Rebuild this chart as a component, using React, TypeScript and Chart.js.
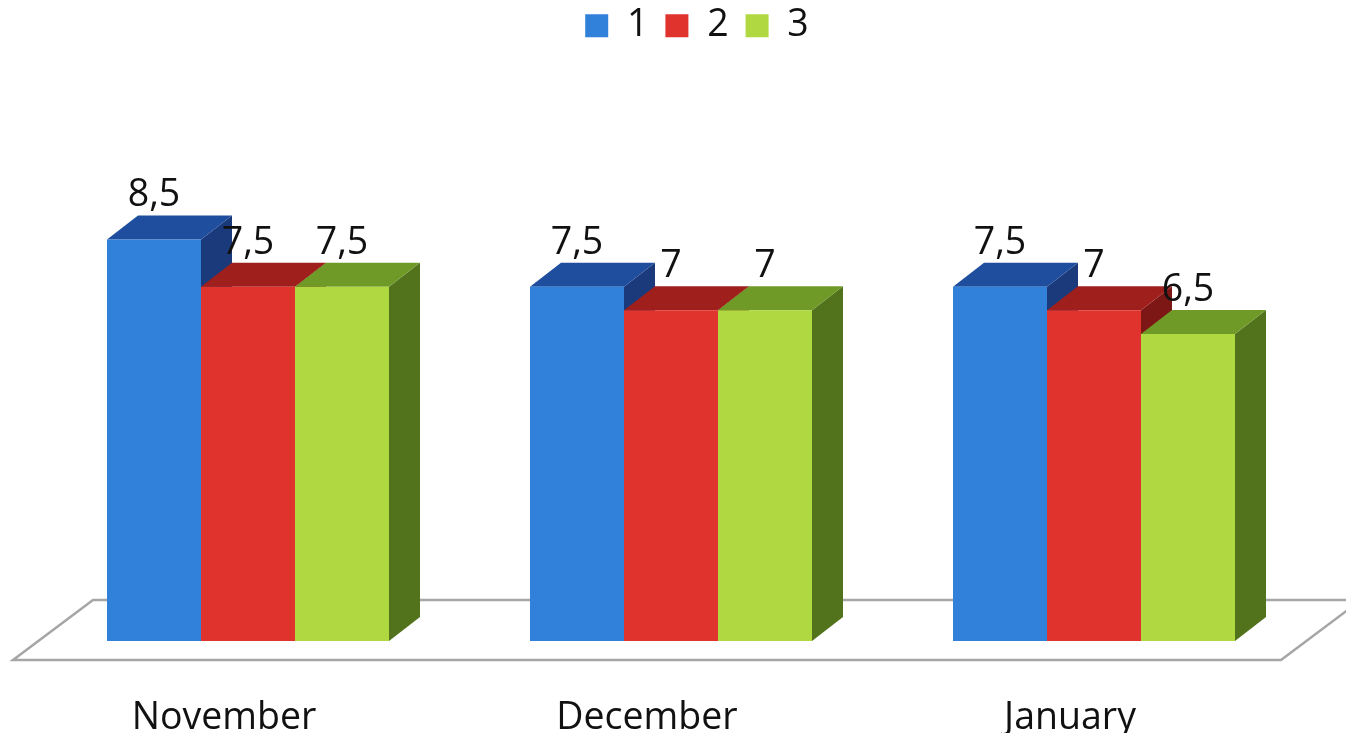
import React, { useEffect, useRef } from "react";
import { Chart, registerables } from "chart.js";

Chart.register(...registerables);

const months = ["November", "December", "January"];
const seriesNames = ["1", "2", "3"];
const series1 = [8.5, 7.5, 7.5];
const series2 = [7.5, 7, 7];
const series3 = [7.5, 7, 6.5];

const frontColors = ["#3180DA", "#E0332E", "#AFD841"];
const topColors = ["#1F4E9E", "#9E1F1C", "#6F9A28"];
const sideColors = ["#1A3A7C", "#7C1715", "#52731C"];

const FONT = '"Open Sans", sans-serif';
const FONT_SIZE = 37.5;
const DEPTH_X = 31;
const DEPTH_Y = 24;

// Floor slab, side and top faces go under the bars the library draws.
const extrusion = {
  id: "extrusion",
  afterLayout(chart: any) {
    const legend = chart.legend;
    legend.left += 26;
    legend.right += 26;
    legend.top -= 19.6;
    legend.bottom -= 19.6;
  },
  beforeDatasetsDraw(chart: any) {
    const { ctx, chartArea: area } = chart;
    const zero = chart.scales.y.getPixelForValue(0);
    ctx.save();
    ctx.beginPath();
    ctx.moveTo(area.left - 23.5, zero + 19);
    ctx.lineTo(area.right - 24.5, zero + 19);
    ctx.lineTo(area.right + 55.5, zero - 41);
    ctx.lineTo(area.left + 56.5, zero - 41);
    ctx.closePath();
    ctx.strokeStyle = "#A6A6A6";
    ctx.lineWidth = 2.5;
    ctx.stroke();

    chart.data.datasets.forEach((_: any, d: number) => {
      chart.getDatasetMeta(d).data.forEach((bar: any) => {
        const half = bar.width / 2;
        const l = bar.x - half;
        const r = bar.x + half;
        ctx.fillStyle = sideColors[d];
        ctx.beginPath();
        ctx.moveTo(r, bar.y);
        ctx.lineTo(r + DEPTH_X, bar.y - DEPTH_Y);
        ctx.lineTo(r + DEPTH_X, zero - DEPTH_Y);
        ctx.lineTo(r, zero);
        ctx.closePath();
        ctx.fill();
        ctx.fillStyle = topColors[d];
        ctx.beginPath();
        ctx.moveTo(l, bar.y);
        ctx.lineTo(l + DEPTH_X, bar.y - DEPTH_Y);
        ctx.lineTo(r + DEPTH_X, bar.y - DEPTH_Y);
        ctx.lineTo(r, bar.y);
        ctx.closePath();
        ctx.fill();
      });
    });
    ctx.restore();
  },
  afterDatasetsDraw(chart: any) {
    const { ctx } = chart;
    ctx.save();
    ctx.font = `${FONT_SIZE}px ${FONT}`;
    ctx.fillStyle = "#111111";
    ctx.textAlign = "center";
    ctx.textBaseline = "alphabetic";
    chart.data.datasets.forEach((ds: any, d: number) => {
      chart.getDatasetMeta(d).data.forEach((bar: any, i: number) => {
        ctx.fillText(String(ds.data[i]).replace(".", ","), bar.x, bar.y - 33);
      });
    });
    ctx.restore();
  },
};

export default function App() {
  const ref = useRef<HTMLCanvasElement>(null);

  useEffect(() => {
    const chart = new Chart(ref.current!, {
      type: "bar",
      data: {
        labels: months,
        datasets: [series1, series2, series3].map((values, i) => ({
          label: seriesNames[i],
          data: values,
          backgroundColor: frontColors[i],
          borderWidth: 0,
          categoryPercentage: 282 / 423,
          barPercentage: 1,
        })),
      },
      options: {
        responsive: false,
        animation: false,
        layout: { padding: { left: 36.5, right: 40.5, top: 9.6, bottom: -55 } },
        plugins: {
          tooltip: { enabled: false },
          legend: {
            position: "top",
            labels: {
              boxWidth: 23,
              boxHeight: 23,
              padding: 17,
              color: "#111111",
              font: { family: FONT, size: FONT_SIZE },
            },
          },
        },
        scales: {
          x: {
            grid: { display: false },
            border: { display: false },
            ticks: {
              padding: 47,
              labelOffset: -24,
              maxRotation: 0,
              color: "#111111",
              font: { family: FONT, size: FONT_SIZE },
            },
          },
          y: { display: false, min: 0, max: 12 },
        },
      },
      plugins: [extrusion],
    });
    return () => chart.destroy();
  }, []);

  return (
    <div style={{ position: "absolute", left: 0, top: 0, width: 1346, height: 733, overflow: "hidden", background: "#fff" }}>
      <canvas ref={ref} width={1346} height={733} style={{ display: "block" }} />
    </div>
  );
}
